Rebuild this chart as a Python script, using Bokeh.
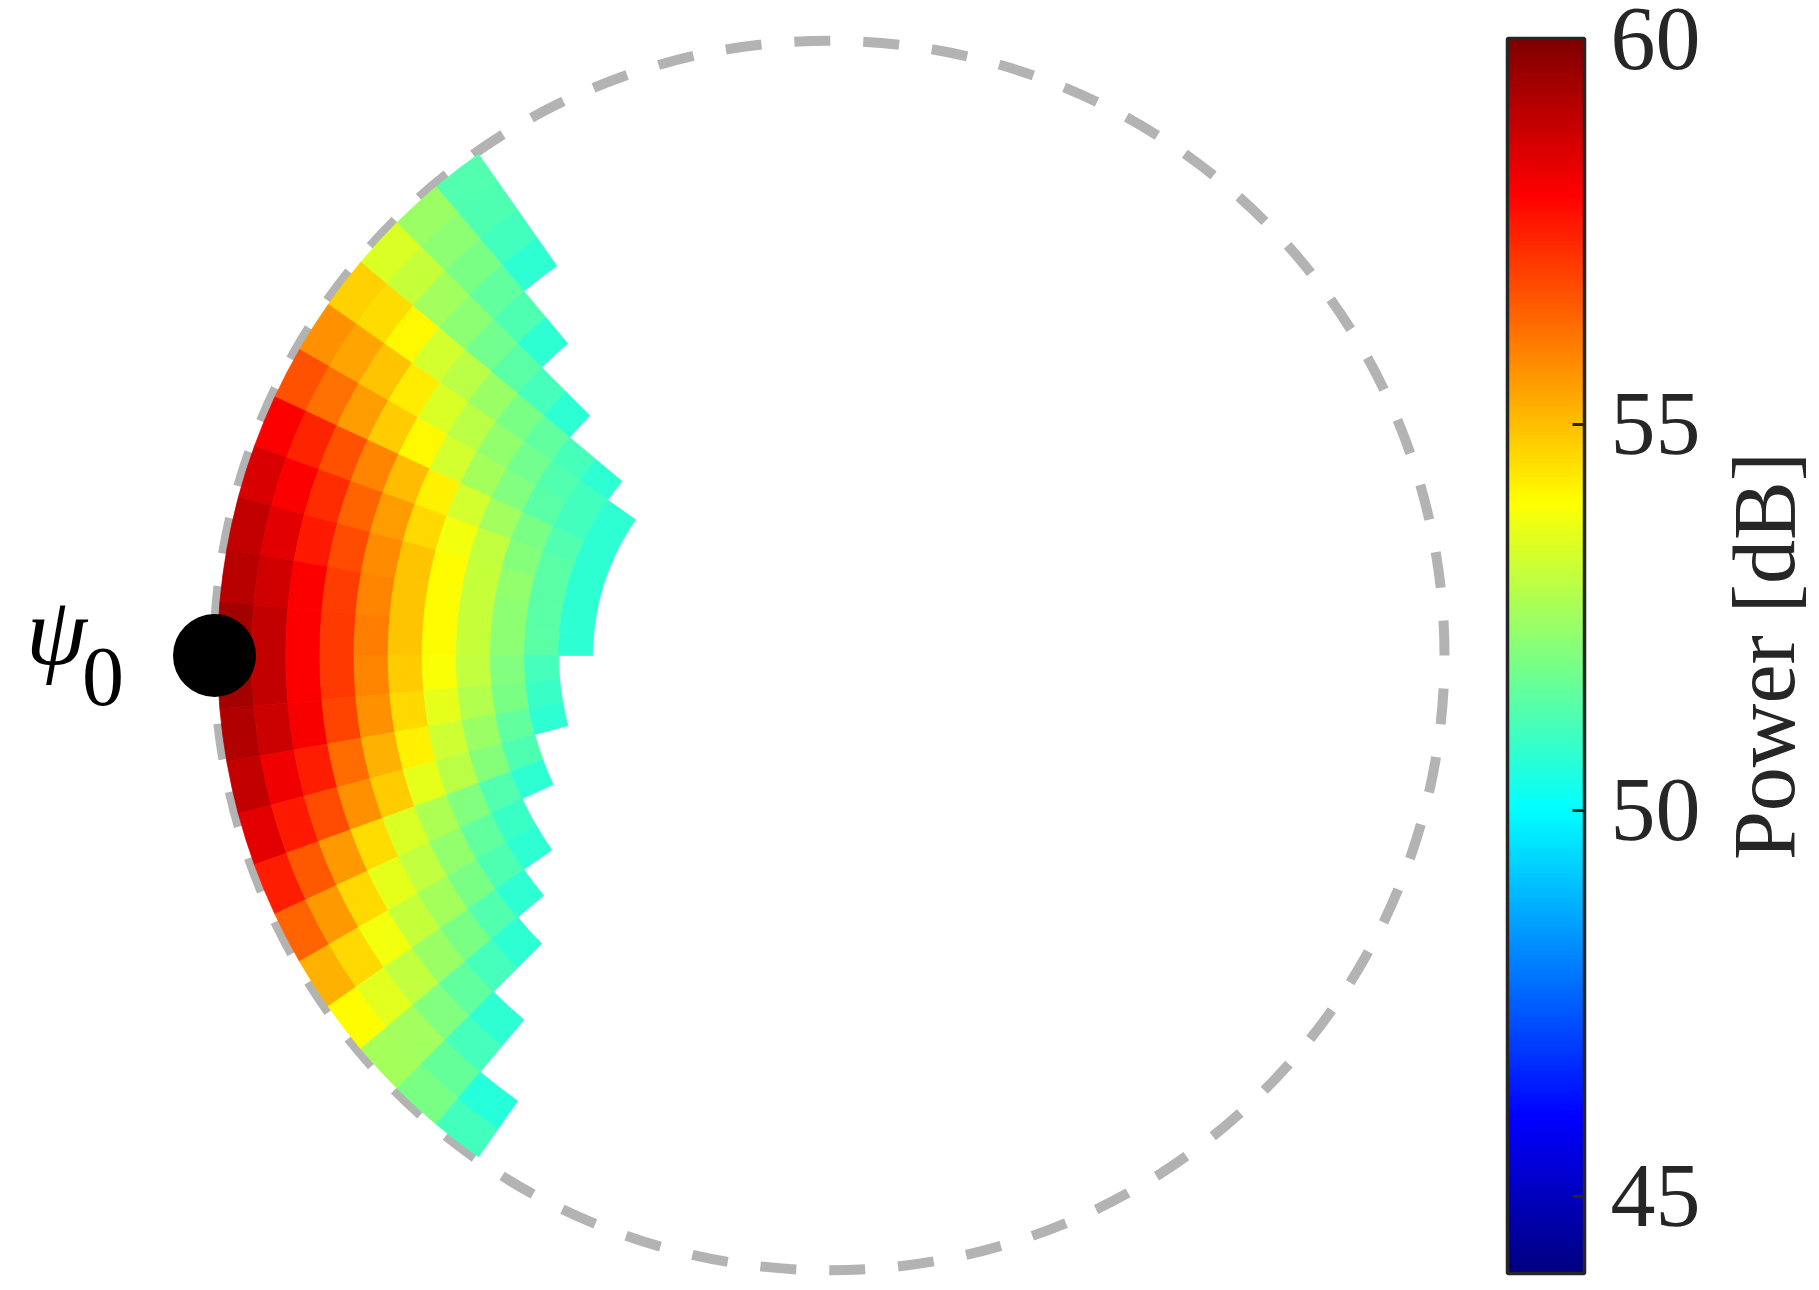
import math
from bokeh.plotting import figure
from bokeh.models import (ColumnDataSource, LinearColorMapper, ColorBar,
                          FixedTicker, Label, Range1d)
from bokeh.transform import transform
from bokeh.embed import file_html
from bokeh.resources import INLINE

# ---------------- data ----------------
# azimuth bin centres (deg), 5 deg wide
azimuth_deg = [127.5, 132.5, 137.5, 142.5, 147.5, 152.5, 157.5, 162.5, 167.5,
               172.5, 177.5, 182.5, 187.5, 192.5, 197.5, 202.5, 207.5, 212.5,
               217.5, 222.5, 227.5, 232.5]
azimuth_bin_deg = 5.0
# range bin centres (normalised so that the dashed circle has radius 1), outer -> inner
range_bin = [0.9673, 0.9118, 0.8564, 0.8009, 0.7455, 0.6900, 0.6346, 0.5791,
             0.5237, 0.4682, 0.4128]
range_bin_width = 0.05545

# received power [dB] per azimuth bin, from the outer range bin inwards
p_127 = [51.3, 51.2, 51.0, 50.7]
p_132 = [52.4, 52.2, 51.9, 51.5, 51.2, 50.7]
p_137 = [53.4, 53.1, 52.5, 52.2, 51.8, 51.4, 51.1, 50.7]
p_142 = [54.7, 54.5, 54.1, 53.3, 52.9, 52.4, 51.9, 51.5, 51.1, 50.7]
p_147 = [55.7, 55.4, 54.9, 54.3, 53.4, 52.9, 52.3, 51.8, 51.3, 51.0, 50.7]
p_152 = [56.7, 56.2, 55.5, 54.8, 54.1, 53.3, 52.6, 52.0, 51.4, 51.0, 50.7]
p_157 = [58.0, 57.4, 56.7, 55.9, 55.0, 54.2, 53.3, 52.5, 51.9, 51.3, 50.7]
p_162 = [58.6, 58.0, 57.3, 56.4, 55.5, 54.6, 53.8, 53.0, 52.1, 51.4, 50.7]
p_167 = [58.9, 58.4, 57.6, 56.8, 55.8, 54.9, 54.0, 53.1, 52.3, 51.4, 50.7]
p_172 = [59.1, 58.7, 58.0, 57.0, 55.9, 54.9, 54.0, 53.1, 52.2, 51.4, 50.7]
p_177 = [59.4, 58.9, 58.0, 57.1, 56.0, 54.9, 54.0, 53.1, 52.2, 51.4, 50.7]
p_182 = [59.4, 58.9, 58.0, 57.1, 55.9, 54.8, 53.9, 53.0, 52.0, 51.1]
p_187 = [59.2, 58.8, 58.1, 56.9, 55.7, 54.6, 53.6, 52.8, 51.9, 50.9]
p_192 = [58.9, 58.2, 57.5, 56.3, 55.2, 54.2, 53.2, 52.4, 51.5, 50.7]
p_197 = [58.4, 57.6, 56.8, 55.7, 54.8, 53.6, 52.9, 52.1, 51.2]
p_202 = [57.5, 56.6, 55.6, 54.5, 53.4, 52.7, 52.0, 51.3, 50.7]
p_207 = [56.4, 55.6, 54.6, 53.6, 53.0, 52.3, 51.5, 50.9]
p_212 = [55.2, 54.6, 53.8, 53.1, 52.6, 51.9, 51.2, 50.7]
p_217 = [54.0, 53.5, 53.0, 52.4, 51.9, 51.3, 50.7]
p_222 = [52.6, 52.5, 52.0, 51.5, 51.1, 50.7]
p_227 = [51.9, 51.6, 51.1, 50.7]
p_232 = [51.0, 50.6]

power_rows = [p_127, p_132, p_137, p_142, p_147, p_152, p_157, p_162, p_167,
              p_172, p_177, p_182, p_187, p_192, p_197, p_202, p_207, p_212,
              p_217, p_222, p_227, p_232]

# transmitter position psi_0
source_azimuth_deg = 180.0
source_range = 1.0
boundary_radius = 1.0

cbar_low, cbar_high = 44.0, 60.0
cbar_ticks = [45, 50, 55, 60]
cbar_label = "Power [dB]"

# ---------------- jet palette ----------------
def _clip(v):
    return max(0.0, min(1.0, v))

jet = []
for i in range(256):
    f = i / 255.0
    r = _clip(1.5 - abs(4 * f - 3))
    g = _clip(1.5 - abs(4 * f - 2))
    b = _clip(1.5 - abs(4 * f - 1))
    jet.append("#%02x%02x%02x" % (round(r * 255), round(g * 255), round(b * 255)))

mapper = LinearColorMapper(palette=jet, low=cbar_low, high=cbar_high)

# ---------------- cells ----------------
cols = dict(r_in=[], r_out=[], a0=[], a1=[], power=[])
for az, row in zip(azimuth_deg, power_rows):
    for k, val in enumerate(row):
        cols["r_in"].append(range_bin[k] - range_bin_width / 2)
        cols["r_out"].append(range_bin[k] + range_bin_width / 2)
        cols["a0"].append(math.radians(az - azimuth_bin_deg / 2))
        cols["a1"].append(math.radians(az + azimuth_bin_deg / 2))
        cols["power"].append(val)
src = ColumnDataSource(cols)

# ---------------- figure ----------------
W, H = 1815, 1286
CX, CY, S = 829.0, 655.0, 615.0   # canvas position of centre, px per unit
p = figure(width=W, height=H,
           x_range=Range1d(-CX / S, (W - CX) / S),
           y_range=Range1d(-(H - CY) / S, CY / S),
           output_backend="svg", toolbar_location=None,
           x_axis_type=None, y_axis_type=None, min_border=0,
           outline_line_color=None, background_fill_color="white",
           border_fill_color="white")
p.grid.grid_line_color = None

def page_to_data(X, Y):
    return ((X - CX) / S, (CY - Y) / S)

p.circle(x=[0], y=[0], radius=boundary_radius, fill_color=None,
         line_color="#b3b3b3", line_width=10, line_dash="36 33",
         line_dash_offset=36)

p.annular_wedge(x=0, y=0, inner_radius="r_in", outer_radius="r_out",
                start_angle="a0", end_angle="a1", source=src,
                fill_color=transform("power", mapper),
                line_color=transform("power", mapper), line_width=0.8)

sx = source_range * math.cos(math.radians(source_azimuth_deg))
sy = source_range * math.sin(math.radians(source_azimuth_deg))
p.scatter(x=[sx], y=[sy], marker="circle", size=83,
          fill_color="black", line_color=None)

lx, ly = page_to_data(56, 630)
p.add_layout(Label(x=lx, y=ly, text="ψ", text_font="Liberation Serif",
                   text_font_style="italic", text_font_size="98px",
                   text_align="center", text_baseline="alphabetic",
                   text_color="black"))
lx, ly = page_to_data(102.5, 676)
p.add_layout(Label(x=lx, y=ly, text="0", text_font="Liberation Serif",
                   text_font_size="84px", text_align="center",
                   text_baseline="alphabetic", text_color="black"))

cb = ColorBar(color_mapper=mapper, ticker=FixedTicker(ticks=cbar_ticks),
              width=77, height=1235, padding=0, margin=0,
              location=(1507, H - 1273),
              bar_line_color="#262626", bar_line_width=3.5,
              major_tick_line_color="#262626", major_tick_line_width=3,
              major_tick_in=12, major_tick_out=0,
              minor_tick_line_color=None,
              major_label_text_font="Liberation Serif",
              major_label_text_font_size="90px",
              major_label_text_color="#262626",
              label_standoff=26,
              background_fill_alpha=0, border_line_alpha=0)
p.add_layout(cb)

lx, ly = page_to_data(1764, 655.5)
p.add_layout(Label(x=lx, y=ly, text=cbar_label, angle=math.pi / 2,
                   text_font="Liberation Serif", text_font_size="88px",
                   text_align="center", text_baseline="alphabetic",
                   text_color="#262626"))

open("out.html", "w").write(file_html(p, INLINE))
